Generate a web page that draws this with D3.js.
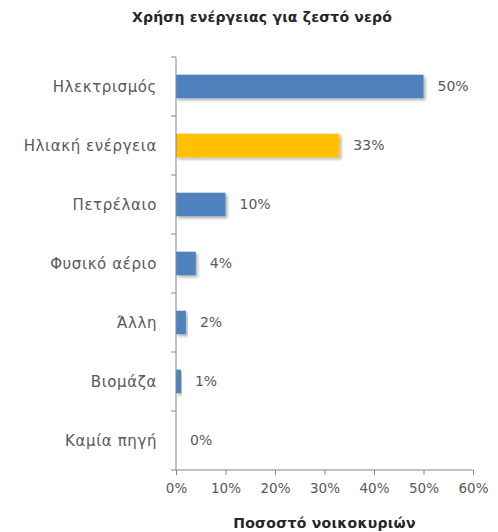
<!DOCTYPE html>
<html>
<head>
<meta charset="utf-8">
<script src="https://cdn.jsdelivr.net/npm/d3@7"></script>
<style>
  body { margin: 0; background: #fff; }
  text { font-family: "DejaVu Sans", sans-serif; fill: #595959; }
</style>
</head>
<body>
<div id="chart"></div>
<script>
// data
var categories = ["Ηλεκτρισμός", "Ηλιακή ενέργεια", "Πετρέλαιο", "Φυσικό αέριο", "Άλλη", "Βιομάζα", "Καμία πηγή"];
var values = [50, 33, 10, 4, 2, 1, 0];
var highlight = ["Ηλιακή ενέργεια"];
var xTicks = [0, 10, 20, 30, 40, 50, 60];

var w = 498;
var h = 532;
var margin = { top: 57, right: 25, bottom: 62, left: 176 };

var svg = d3.select("#chart")
            .append("svg")
            .attr("width", w)
            .attr("height", h);

var defs = svg.append("defs");
var shadow = defs.append("filter")
                 .attr("id", "shadow")
                 .attr("x", "-20%").attr("y", "-30%")
                 .attr("width", "140%").attr("height", "170%");
shadow.append("feDropShadow")
      .attr("dx", 2).attr("dy", 2)
      .attr("stdDeviation", 1.5)
      .attr("flood-color", "#000")
      .attr("flood-opacity", 0.3);

var xScale = d3.scaleLinear()
               .domain([0, 60])
               .range([margin.left, w - margin.right]);

var yScale = d3.scaleBand()
               .domain(categories)
               .range([margin.top, h - margin.bottom])
               .paddingInner(0.6)
               .paddingOuter(0.3);

// title
svg.append("text")
   .attr("x", 262)
   .attr("y", 22)
   .attr("text-anchor", "middle")
   .style("font-size", "14px")
   .style("font-weight", "bold")
   .style("letter-spacing", "0.2px")
   .style("fill", "#262626")
   .text("Χρήση ενέργειας για ζεστό νερό");

// bars
svg.selectAll(".bar")
   .data(values)
   .enter()
   .append("rect")
   .attr("class", "bar")
   .attr("x", xScale(0))
   .attr("y", function(d, i) { return yScale(categories[i]); })
   .attr("width", function(d) { return xScale(d) - xScale(0); })
   .attr("height", yScale.bandwidth())
   .attr("fill", function(d, i) { return highlight.indexOf(categories[i]) >= 0 ? "#FFC000" : "#4F81BD"; })
   .attr("filter", function(d) { return d > 0 ? "url(#shadow)" : null; });

// value labels
svg.selectAll(".val")
   .data(values)
   .enter()
   .append("text")
   .attr("class", "val")
   .attr("x", function(d) { return xScale(d) + 14; })
   .attr("y", function(d, i) { return yScale(categories[i]) + yScale.bandwidth() / 2; })
   .attr("dy", "0.35em")
   .style("font-size", "14px")
   .text(function(d) { return d + "%"; });

// y axis: line with ticks between categories
var yAxis = svg.append("g").attr("class", "yaxis");
yAxis.append("line")
     .attr("x1", margin.left).attr("x2", margin.left)
     .attr("y1", margin.top).attr("y2", h - margin.bottom)
     .attr("stroke", "#868686");
var bounds = d3.range(categories.length + 1).map(function(i) { return margin.top + i * (h - margin.top - margin.bottom) / categories.length; });
yAxis.selectAll(".tk")
     .data(bounds)
     .enter()
     .append("line")
     .attr("x1", margin.left - 5).attr("x2", margin.left)
     .attr("y1", function(d) { return d; }).attr("y2", function(d) { return d; })
     .attr("stroke", "#868686");
yAxis.selectAll(".lbl")
     .data(categories)
     .enter()
     .append("text")
     .attr("x", margin.left - 19)
     .attr("y", function(d) { return yScale(d) + yScale.bandwidth() / 2; })
     .attr("dy", "0.35em")
     .attr("text-anchor", "end")
     .style("font-size", "15px")
     .style("letter-spacing", "0.6px")
     .text(function(d) { return d; });

// x axis
var xAxis = d3.axisBottom(xScale)
              .tickValues(xTicks)
              .tickSize(5)
              .tickPadding(8)
              .tickFormat(function(d) { return d + "%"; });

var gx = svg.append("g")
            .attr("class", "axis")
            .attr("transform", "translate(0," + (h - margin.bottom) + ")")
            .call(xAxis);
gx.selectAll("path, line").attr("stroke", "#868686");
gx.select(".domain").attr("d", "M" + xScale(0) + ",0H" + xScale(60));
gx.selectAll("text")
  .style("font-size", "13.5px")
  .style("font-family", "\"DejaVu Sans\", sans-serif")
  .attr("fill", "#595959");

// x axis title
svg.append("text")
   .attr("x", xScale(30))
   .attr("y", 528)
   .attr("text-anchor", "middle")
   .style("font-size", "14px")
   .style("font-weight", "bold")
   .style("letter-spacing", "0.3px")
   .style("fill", "#262626")
   .text("Ποσοστό νοικοκυριών");
</script>
</body>
</html>
